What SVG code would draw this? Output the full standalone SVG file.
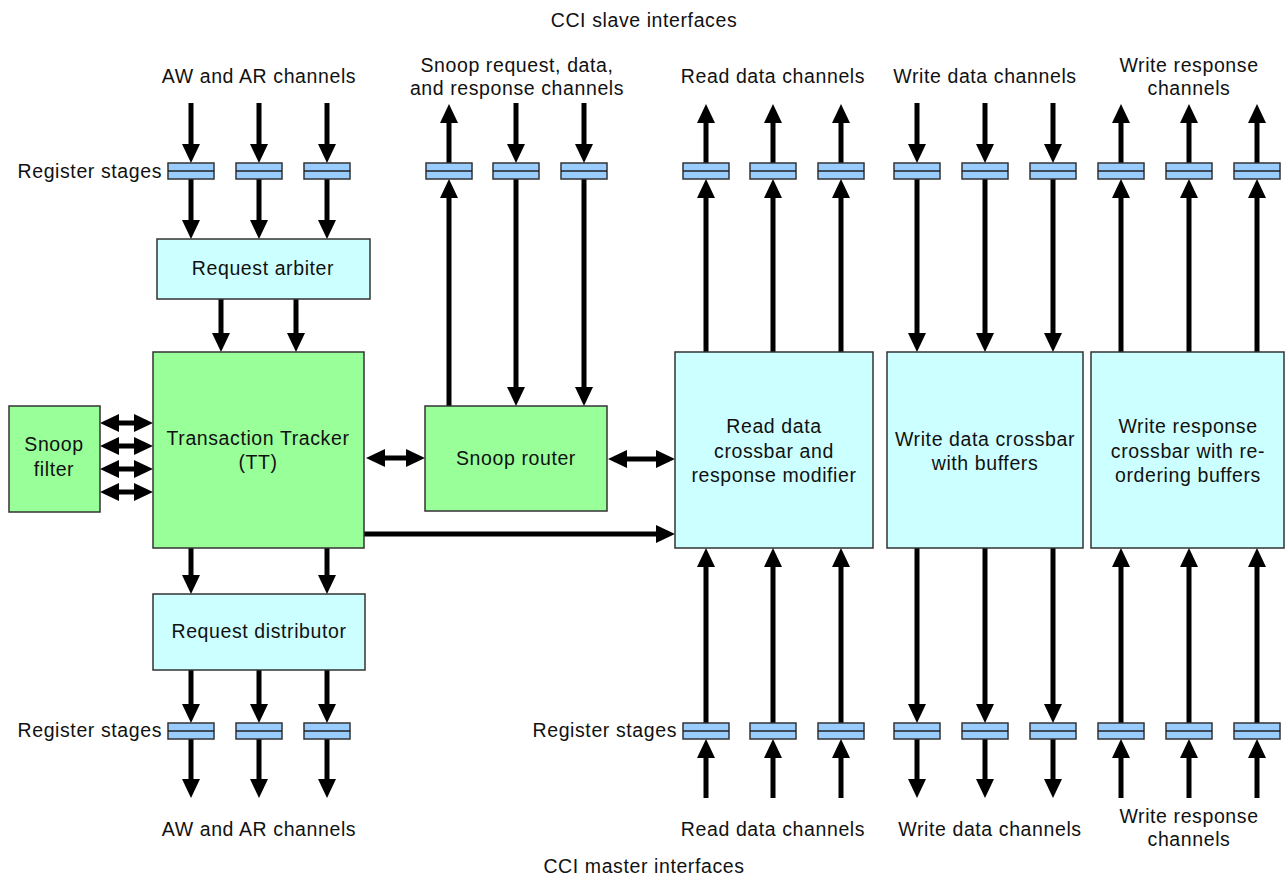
<svg xmlns="http://www.w3.org/2000/svg" width="1288" height="880" viewBox="0 0 1288 880">
<defs>
<style>
text{font-family:"Liberation Sans",Arial,sans-serif;font-size:19.5px;letter-spacing:0.6px;fill:#111;text-anchor:middle}
.end{text-anchor:end}
.g{fill:#99ff99;stroke:#333;stroke-width:1.5}
.c{fill:#ccffff;stroke:#333;stroke-width:1.5}
.reg{fill:#99ccff;stroke:#333;stroke-width:1.5}
.mid{stroke:#222;stroke-width:1.5}
.a{stroke:#000;stroke-width:5;fill:none;marker-end:url(#ah)}
.d{stroke:#000;stroke-width:5;fill:none;marker-end:url(#ah);marker-start:url(#ah)}
</style>
<marker id="ah" markerUnits="userSpaceOnUse" markerWidth="19" markerHeight="18" viewBox="0 0 19 18" refX="9" refY="9" orient="auto-start-reverse"><path d="M0,0 L19,9 L0,18 z" fill="#000"/></marker>
<g id="regshape"><rect class="reg" x="-23" y="0" width="46" height="16"/><line class="mid" x1="-23" y1="8" x2="23" y2="8"/></g>
</defs>
<rect width="1288" height="880" fill="#fff"/>

<g id="labels">
<text x="644" y="27">CCI slave interfaces</text>
<text x="259" y="83">AW and AR channels</text>
<text x="517" y="72">Snoop request, data,</text>
<text x="517" y="95">and response channels</text>
<text x="773" y="83">Read data channels</text>
<text x="985" y="83">Write data channels</text>
<text x="1189" y="72">Write response</text>
<text x="1189" y="95">channels</text>
<text class="end" x="162" y="178">Register stages</text>
<text class="end" x="162" y="737">Register stages</text>
<text class="end" x="677" y="737">Register stages</text>
<text x="259" y="836">AW and AR channels</text>
<text x="773" y="836">Read data channels</text>
<text x="990" y="836">Write data channels</text>
<text x="1189" y="823">Write response</text>
<text x="1189" y="846">channels</text>
<text x="644" y="873">CCI master interfaces</text>
</g>

<g id="connectors">
<line class="a" x1="191" y1="103" x2="191" y2="153"/>
<line class="a" x1="259" y1="103" x2="259" y2="153"/>
<line class="a" x1="327" y1="103" x2="327" y2="153"/>
<line class="a" x1="191" y1="179" x2="191" y2="229"/>
<line class="a" x1="259" y1="179" x2="259" y2="229"/>
<line class="a" x1="327" y1="179" x2="327" y2="229"/>
<line class="a" x1="221" y1="299" x2="221" y2="342"/>
<line class="a" x1="296" y1="299" x2="296" y2="342"/>
<line class="a" x1="449" y1="406" x2="449" y2="189"/>
<line class="a" x1="449" y1="163" x2="449" y2="114"/>
<line class="a" x1="516" y1="103" x2="516" y2="153"/>
<line class="a" x1="584" y1="103" x2="584" y2="153"/>
<line class="a" x1="516" y1="179" x2="516" y2="396"/>
<line class="a" x1="584" y1="179" x2="584" y2="396"/>
<line class="a" x1="706" y1="352" x2="706" y2="189"/>
<line class="a" x1="773" y1="352" x2="773" y2="189"/>
<line class="a" x1="841" y1="352" x2="841" y2="189"/>
<line class="a" x1="706" y1="163" x2="706" y2="114"/>
<line class="a" x1="773" y1="163" x2="773" y2="114"/>
<line class="a" x1="841" y1="163" x2="841" y2="114"/>
<line class="a" x1="917" y1="103" x2="917" y2="153"/>
<line class="a" x1="985" y1="103" x2="985" y2="153"/>
<line class="a" x1="1053" y1="103" x2="1053" y2="153"/>
<line class="a" x1="917" y1="179" x2="917" y2="342"/>
<line class="a" x1="985" y1="179" x2="985" y2="342"/>
<line class="a" x1="1053" y1="179" x2="1053" y2="342"/>
<line class="a" x1="1121" y1="352" x2="1121" y2="189"/>
<line class="a" x1="1189" y1="352" x2="1189" y2="189"/>
<line class="a" x1="1257" y1="352" x2="1257" y2="189"/>
<line class="a" x1="1121" y1="163" x2="1121" y2="114"/>
<line class="a" x1="1189" y1="163" x2="1189" y2="114"/>
<line class="a" x1="1257" y1="163" x2="1257" y2="114"/>
<line class="d" x1="110" y1="423" x2="143" y2="423"/>
<line class="d" x1="110" y1="446" x2="143" y2="446"/>
<line class="d" x1="110" y1="469" x2="143" y2="469"/>
<line class="d" x1="110" y1="492" x2="143" y2="492"/>
<line class="d" x1="376" y1="458" x2="415" y2="458"/>
<line class="d" x1="618" y1="459" x2="665" y2="459"/>
<line class="a" x1="364" y1="534" x2="665" y2="534"/>
<line class="a" x1="191" y1="548" x2="191" y2="584"/>
<line class="a" x1="327" y1="548" x2="327" y2="584"/>
<line class="a" x1="191" y1="670" x2="191" y2="713"/>
<line class="a" x1="259" y1="670" x2="259" y2="713"/>
<line class="a" x1="327" y1="670" x2="327" y2="713"/>
<line class="a" x1="191" y1="739" x2="191" y2="788"/>
<line class="a" x1="259" y1="739" x2="259" y2="788"/>
<line class="a" x1="327" y1="739" x2="327" y2="788"/>
<line class="a" x1="706" y1="723" x2="706" y2="558"/>
<line class="a" x1="773" y1="723" x2="773" y2="558"/>
<line class="a" x1="841" y1="723" x2="841" y2="558"/>
<line class="a" x1="706" y1="798" x2="706" y2="749"/>
<line class="a" x1="773" y1="798" x2="773" y2="749"/>
<line class="a" x1="841" y1="798" x2="841" y2="749"/>
<line class="a" x1="917" y1="548" x2="917" y2="713"/>
<line class="a" x1="985" y1="548" x2="985" y2="713"/>
<line class="a" x1="1053" y1="548" x2="1053" y2="713"/>
<line class="a" x1="917" y1="739" x2="917" y2="788"/>
<line class="a" x1="985" y1="739" x2="985" y2="788"/>
<line class="a" x1="1053" y1="739" x2="1053" y2="788"/>
<line class="a" x1="1121" y1="723" x2="1121" y2="558"/>
<line class="a" x1="1189" y1="723" x2="1189" y2="558"/>
<line class="a" x1="1257" y1="723" x2="1257" y2="558"/>
<line class="a" x1="1121" y1="798" x2="1121" y2="749"/>
<line class="a" x1="1189" y1="798" x2="1189" y2="749"/>
<line class="a" x1="1257" y1="798" x2="1257" y2="749"/>
</g>

<g id="registers-top">
<use href="#regshape" x="191" y="163"/>
<use href="#regshape" x="259" y="163"/>
<use href="#regshape" x="327" y="163"/>
<use href="#regshape" x="449" y="163"/>
<use href="#regshape" x="516" y="163"/>
<use href="#regshape" x="584" y="163"/>
<use href="#regshape" x="706" y="163"/>
<use href="#regshape" x="773" y="163"/>
<use href="#regshape" x="841" y="163"/>
<use href="#regshape" x="917" y="163"/>
<use href="#regshape" x="985" y="163"/>
<use href="#regshape" x="1053" y="163"/>
<use href="#regshape" x="1121" y="163"/>
<use href="#regshape" x="1189" y="163"/>
<use href="#regshape" x="1257" y="163"/>
</g>
<g id="registers-bottom">
<use href="#regshape" x="191" y="723"/>
<use href="#regshape" x="259" y="723"/>
<use href="#regshape" x="327" y="723"/>
<use href="#regshape" x="706" y="723"/>
<use href="#regshape" x="773" y="723"/>
<use href="#regshape" x="841" y="723"/>
<use href="#regshape" x="917" y="723"/>
<use href="#regshape" x="985" y="723"/>
<use href="#regshape" x="1053" y="723"/>
<use href="#regshape" x="1121" y="723"/>
<use href="#regshape" x="1189" y="723"/>
<use href="#regshape" x="1257" y="723"/>
</g>

<g id="request-arbiter">
<rect class="c" x="157" y="239" width="213" height="60"/>
<text x="263" y="275">Request arbiter</text>
</g>
<g id="transaction-tracker">
<rect class="g" x="153" y="352" width="211" height="196"/>
<text x="258" y="445">Transaction Tracker</text>
<text x="258" y="469">(TT)</text>
</g>
<g id="snoop-filter">
<rect class="g" x="9" y="406" width="91" height="106"/>
<text x="54" y="451">Snoop</text>
<text x="54" y="476">filter</text>
</g>
<g id="snoop-router">
<rect class="g" x="425" y="406" width="182" height="105"/>
<text x="516" y="465">Snoop router</text>
</g>
<g id="read-crossbar">
<rect class="c" x="675" y="352" width="198" height="196"/>
<text x="774" y="433">Read data</text>
<text x="774" y="458">crossbar and</text>
<text x="774" y="482">response modifier</text>
</g>
<g id="write-data-crossbar">
<rect class="c" x="887" y="352" width="196" height="196"/>
<text x="985" y="446">Write data crossbar</text>
<text x="985" y="470">with buffers</text>
</g>
<g id="write-response-crossbar">
<rect class="c" x="1091" y="352" width="193" height="196"/>
<text x="1188" y="433">Write response</text>
<text x="1188" y="458">crossbar with re-</text>
<text x="1188" y="482">ordering buffers</text>
</g>
<g id="request-distributor">
<rect class="c" x="153" y="594" width="212" height="76"/>
<text x="259" y="638">Request distributor</text>
</g>
</svg>
